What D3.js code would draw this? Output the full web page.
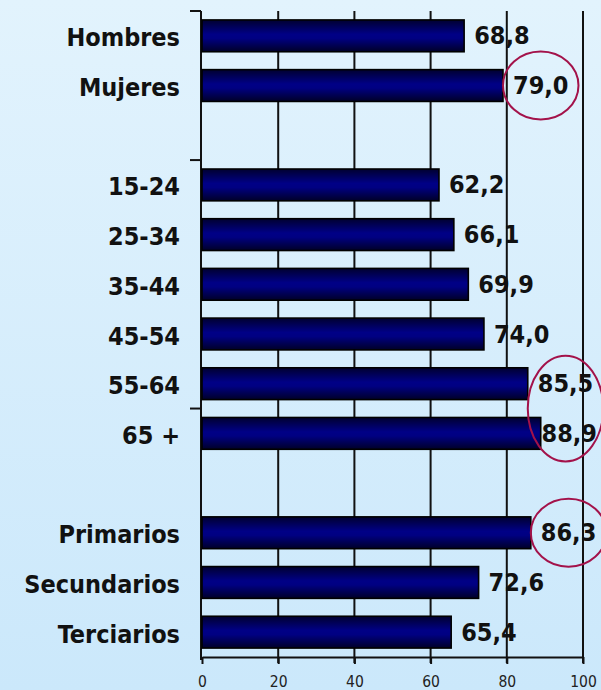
<!DOCTYPE html>
<html>
<head>
<meta charset="utf-8">
<script src="https://cdn.jsdelivr.net/npm/d3@7"></script>
<style>
  body { margin: 0; }
  svg { display: block; }
  .lbl { font-family: "DejaVu Sans Condensed", "DejaVu Sans", sans-serif; font-stretch: condensed; }
</style>
</head>
<body>
<svg width="601" height="690"></svg>
<script>
// data
const sexo = ['Hombres', 'Mujeres'];
const sexoValues = [68.8, 79.0];
const edad = ['15-24', '25-34', '35-44', '45-54', '55-64', '65 +'];
const edadValues = [62.2, 66.1, 69.9, 74.0, 85.5, 88.9];
const estudios = ['Primarios', 'Secundarios', 'Terciarios'];
const estudiosValues = [86.3, 72.6, 65.4];
const xTicks = [0, 20, 40, 60, 80, 100];
// categories circled in red
const circled = [['Mujeres'], ['55-64', '65 +'], ['Primarios']];
// categories with a tick mark above them on the left axis
const axisTicks = ['Hombres', '15-24', '65 +'];

const rows = [];
sexo.forEach((c, i) => rows.push({ key: c, value: sexoValues[i] }));
rows.push({ key: '_gap1', value: null });
edad.forEach((c, i) => rows.push({ key: c, value: edadValues[i] }));
rows.push({ key: '_gap2', value: null });
estudios.forEach((c, i) => rows.push({ key: c, value: estudiosValues[i] }));
const bars = rows.filter(d => d.value !== null);

const W = 601, H = 690;
const svg = d3.select('svg');
const defs = svg.append('defs');

const bg = defs.append('linearGradient').attr('id', 'bg')
  .attr('x1', 0).attr('y1', 0).attr('x2', 0).attr('y2', 1);
bg.append('stop').attr('offset', '0%').attr('stop-color', '#e2f3fd');
bg.append('stop').attr('offset', '100%').attr('stop-color', '#cbe8fb');

const barGrad = defs.append('linearGradient').attr('id', 'bar')
  .attr('x1', 0).attr('y1', 0).attr('x2', 0).attr('y2', 1);
barGrad.append('stop').attr('offset', '0%').attr('stop-color', '#000030');
barGrad.append('stop').attr('offset', '45%').attr('stop-color', '#000086');
barGrad.append('stop').attr('offset', '58%').attr('stop-color', '#000082');
barGrad.append('stop').attr('offset', '100%').attr('stop-color', '#000028');

svg.append('rect').attr('width', W).attr('height', H).attr('fill', 'url(#bg)');

const x = d3.scaleLinear().domain([0, 100]).range([202, 583]);
const y = d3.scaleBand().domain(rows.map(d => d.key))
  .range([11, 657]).paddingInner(0.36).paddingOuter(0.18);

const fmt = d3.formatLocale({ decimal: ',', thousands: '.', grouping: [3], currency: ['', '€'] }).format('.1f');

// vertical grid lines + bottom ticks
svg.append('g').selectAll('line')
  .data(xTicks.filter(t => t > 0))
  .join('line')
  .attr('x1', d => x(d)).attr('x2', d => x(d))
  .attr('y1', 11).attr('y2', 663)
  .attr('stroke', '#111').attr('stroke-width', 2);

// bottom axis
const xAxis = svg.append('g').attr('transform', 'translate(0,657)')
  .call(d3.axisBottom(x).tickValues(xTicks).tickSize(7).tickSizeOuter(0));
xAxis.select('.domain').attr('stroke', '#111').attr('stroke-width', 2);
xAxis.selectAll('.tick line').attr('stroke', '#111').attr('stroke-width', 2);
xAxis.selectAll('.tick text')
  .attr('class', 'lbl')
  .attr('y', 19)
  .attr('font-size', 15.5)
  .attr('fill', '#222');

// left axis line with a few ticks
svg.append('line')
  .attr('x1', 201).attr('x2', 201).attr('y1', 11).attr('y2', 660)
  .attr('stroke', '#111').attr('stroke-width', 2);
svg.append('g').selectAll('line')
  .data(axisTicks)
  .join('line')
  .attr('x1', 190).attr('x2', 201)
  .attr('y1', d => y(d) - y.step() * y.paddingInner() / 2)
  .attr('y2', d => y(d) - y.step() * y.paddingInner() / 2)
  .attr('stroke', '#111').attr('stroke-width', 2);

// bars
svg.append('g').selectAll('rect')
  .data(bars)
  .join('rect')
  .attr('x', x(0))
  .attr('y', d => y(d.key))
  .attr('width', d => x(d.value) - x(0))
  .attr('height', y.bandwidth())
  .attr('fill', 'url(#bar)')
  .attr('stroke', '#000').attr('stroke-width', 1.6);

// category labels
svg.append('g').selectAll('text')
  .data(bars)
  .join('text')
  .attr('class', 'lbl')
  .attr('x', 180)
  .attr('y', d => y(d.key) + y.bandwidth() / 2 + 2)
  .attr('text-anchor', 'end')
  .attr('dominant-baseline', 'central')
  .attr('font-size', 25).attr('font-weight', 'bold')
  .attr('fill', '#111')
  .text(d => d.key);

// value labels
const vals = svg.append('g').selectAll('text')
  .data(bars)
  .join('text')
  .attr('class', 'lbl')
  .attr('y', d => y(d.key) + y.bandwidth() / 2)
  .attr('dominant-baseline', 'central')
  .attr('font-size', 25).attr('font-weight', 'bold')
  .attr('fill', '#111')
  .text(d => fmt(d.value));

const labelPos = {};
vals.each(function(d) {
  const w = this.getComputedTextLength();
  const lx = Math.min(x(d.value) + 10, W - w - 4);
  d3.select(this).attr('x', lx);
  labelPos[d.key] = { cx: lx + w / 2, cy: y(d.key) + y.bandwidth() / 2, w: w };
});

// red ellipses
svg.append('g').selectAll('ellipse')
  .data(circled)
  .join('ellipse')
  .attr('cx', g => d3.min(g, k => labelPos[k].cx))
  .attr('cy', g => d3.mean(g, k => labelPos[k].cy))
  .attr('rx', g => d3.max(g, k => labelPos[k].w) / 2 + 10)
  .attr('ry', g => 34 + (d3.max(g, k => labelPos[k].cy) - d3.min(g, k => labelPos[k].cy)) * 0.38)
  .attr('fill', 'none')
  .attr('stroke', '#a3124a').attr('stroke-width', 2);
</script>
</body>
</html>
